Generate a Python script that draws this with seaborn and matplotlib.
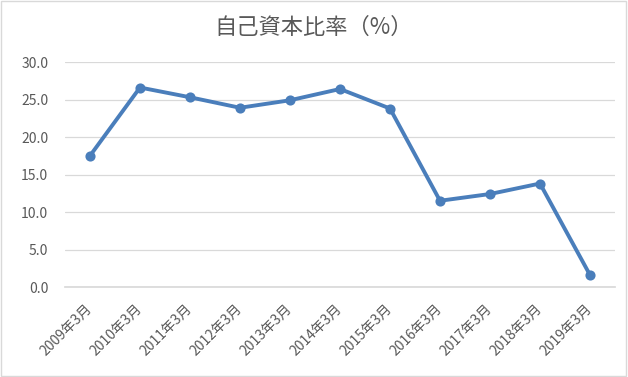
import matplotlib
matplotlib.use("Agg")
import matplotlib.pyplot as plt
import matplotlib.transforms as mtransforms
import seaborn as sns
import pandas as pd

categories = ["2009年3月", "2010年3月", "2011年3月", "2012年3月", "2013年3月", "2014年3月",
              "2015年3月", "2016年3月", "2017年3月", "2018年3月", "2019年3月"]
values = [17.5, 26.6, 25.3, 23.9, 24.9, 26.4, 23.8, 11.5, 12.4, 13.8, 1.6]
yticks = [0, 5, 10, 15, 20, 25, 30]
title = "自己資本比率（%）"

sns.set_theme(style="white")
plt.rcParams['font.family'] = ['Noto Sans CJK JP', 'DejaVu Sans']

df = pd.DataFrame({"cat": categories, "val": values})

fig = plt.figure(figsize=(6.28, 3.77), dpi=100)
ax = fig.add_axes([0.1035, 0.2387, 0.8758, 0.5968])

sns.pointplot(data=df, x="cat", y="val", ax=ax, color="#4A7EBB",
              markers="o", markersize=5.2, linewidth=2.8)
ax.set_xlim(-0.5, len(categories) - 0.5)
ax.set_ylim(0, 30)
ax.set_yticks(yticks)
ax.set_yticklabels([f"{v:.1f}" for v in yticks], color="#595959", fontsize=10)
ax.yaxis.grid(True, color="#D9D9D9", linewidth=0.9)
ax.set_axisbelow(True)
for s in ax.spines.values():
    s.set_visible(False)
ax.spines['bottom'].set_visible(True)
ax.spines['bottom'].set_color("#D9D9D9")
ax.tick_params(axis='y', length=0, pad=12)
ax.tick_params(axis='x', length=0, pad=0)
ax.set_xlabel("")
ax.set_ylabel("")

offset = mtransforms.ScaledTranslation(-5/100, -15/100, fig.dpi_scale_trans)
for lbl in ax.get_xticklabels():
    lbl.set_rotation(45)
    lbl.set_ha("right")
    lbl.set_va("top")
    lbl.set_rotation_mode("anchor")
    lbl.set_color("#595959")
    lbl.set_fontsize(10)
    lbl.set_transform(lbl.get_transform() + offset)

fig.text(0.5, 0.928, title, ha="center", va="center", fontsize=16, color="#595959")

border = plt.Rectangle((0.002, 0.003), 0.995, 0.994, transform=fig.transFigure,
                       fill=False, edgecolor="#D9D9D9", linewidth=1)
fig.add_artist(border)

fig.savefig("out.png", dpi=100)
